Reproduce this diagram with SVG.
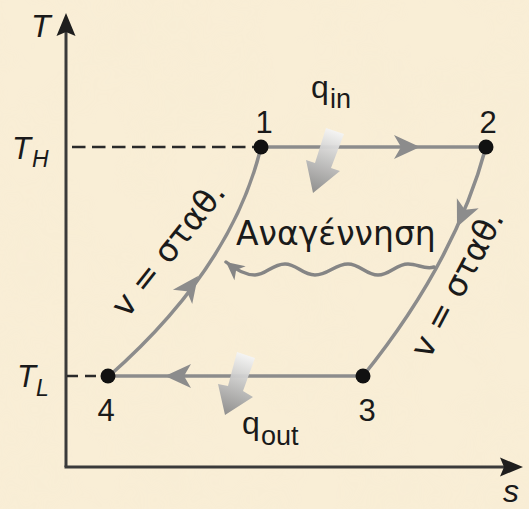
<svg xmlns="http://www.w3.org/2000/svg" xmlns:xlink="http://www.w3.org/1999/xlink" width="529" height="509" viewBox="0 0 529 509">
  <defs>
    <style>
      .axis { stroke: #3a3a3a; stroke-width: 3; fill: none; }
      .dash { stroke: #2a2a2a; stroke-width: 2.5; fill: none; }
      .proc { stroke: #8c8c8c; stroke-width: 3.5; fill: none; }
      .wave { stroke: #858585; stroke-width: 3.5; fill: none; stroke-linecap: round; }
      .pt { fill: #111; }
      .lbl { font-family: "Liberation Sans", Arial, sans-serif; fill: #1a1a1a; }
      .it { font-style: italic; }
      .gr { font-family: "DejaVu Sans", "Noto Sans", sans-serif; fill: #1a1a1a; font-size: 33px; }
      .ahead { fill: #8c8c8c; }
      .axhead { fill: #1e1e1e; }
    </style>
    <path id="ah" d="M0,0 L-26,-12 L-19,0 L-26,12 Z"/>
    <marker id="wavehead" viewBox="-20 -11 22 22" refX="0" refY="0" markerWidth="22" markerHeight="22" markerUnits="userSpaceOnUse" orient="auto">
      <path d="M0,0 L-18,-9 L-13,0 L-18,9 Z" fill="#858585"/>
    </marker>
    <linearGradient id="gin" gradientUnits="userSpaceOnUse" x1="335" y1="130" x2="313" y2="193">
      <stop offset="0" stop-color="#f6f6f6"/>
      <stop offset="1" stop-color="#8a8a8a"/>
    </linearGradient>
    <linearGradient id="gout" gradientUnits="userSpaceOnUse" x1="246" y1="354" x2="225" y2="415">
      <stop offset="0" stop-color="#f6f6f6"/>
      <stop offset="1" stop-color="#8a8a8a"/>
    </linearGradient>
    <filter id="paper" x="0" y="0" width="100%" height="100%">
      <feTurbulence type="fractalNoise" baseFrequency="0.015" numOctaves="3" seed="4" result="n"/>
      <feColorMatrix in="n" type="matrix" values="0 0 0 0 0.88  0 0 0 0 0.8  0 0 0 0 0.62  0 0 0 0.5 -0.18"/>
    </filter>
  </defs>

  <!-- background -->
  <rect x="0" y="0" width="529" height="509" fill="#f9eed6"/>
  <rect x="0" y="0" width="529" height="509" filter="url(#paper)" opacity="0.45"/>

  <!-- axes -->
  <g id="axes">
    <line class="axis" x1="66" y1="467" x2="66" y2="30"/>
    <path class="axhead" d="M66,13 L75.5,36 L66,32 L56.5,36 Z"/>
    <line class="axis" x1="64.5" y1="467" x2="508" y2="467"/>
    <path class="axhead" d="M523,467 L500,476.5 L504,467 L500,457.5 Z"/>
    <text class="lbl it" x="31" y="37" font-size="32">T</text>
    <text class="lbl it" x="503" y="502" font-size="32">s</text>
    <text class="lbl it" x="12" y="159" font-size="31">T</text>
    <text class="lbl it" x="32" y="167" font-size="23">H</text>
    <text class="lbl it" x="17" y="387" font-size="31">T</text>
    <text class="lbl it" x="36" y="396" font-size="23">L</text>
    <line class="dash" x1="72" y1="147" x2="255" y2="147" stroke-dasharray="13.5 6.5"/>
    <line class="dash" x1="67" y1="376" x2="102" y2="376" stroke-dasharray="11 7"/>
  </g>

  <!-- connectors (processes) -->
  <g id="connectors">
    <line id="c12" class="proc" x1="261" y1="147" x2="486" y2="147"/>
    <use href="#ah" class="ahead" transform="translate(420,147)"/>
    <path id="c23" class="proc" d="M486,147 Q455,262 363,376"/>
    <use href="#ah" class="ahead" transform="translate(457,227) rotate(114.5)"/>
    <line id="c34" class="proc" x1="363" y1="376" x2="108" y2="376"/>
    <use href="#ah" class="ahead" transform="translate(165,376) rotate(180)"/>
    <path id="c41" class="proc" d="M108,377 Q232,268 261,147"/>
    <use href="#ah" class="ahead" transform="translate(198,276) rotate(-53.6)"/>
    <path id="regen" class="wave" marker-end="url(#wavehead)" d="M434,267 C425,270 418,264 408,264 C396,264 390,275 378,275 C366,275 360,264 348,264 C335,264 328,275 315,275 C302,275 297,264 285,264 C272,264 266,275 255,275 C245,275 236,270 226,262"/>
  </g>

  <!-- heat arrows -->
  <g id="qin">
    <polygon points="326,128 344,134 331,168 340,171 313,193 306,160 315,163" fill="url(#gin)" opacity="0.95"/>
    <text class="lbl" x="311" y="98" font-size="32">q</text>
    <text class="lbl" x="330" y="108" font-size="27">in</text>
  </g>
  <g id="qout">
    <polygon points="237,352 255,358 243,391 253,397 225,415 218,384 228,386" fill="url(#gout)" opacity="0.95"/>
    <text class="lbl" x="242" y="434" font-size="32">q</text>
    <text class="lbl" x="261" y="445" font-size="27">out</text>
  </g>

  <!-- state nodes -->
  <g id="node1">
    <circle class="pt" cx="261" cy="147" r="7.5"/>
    <text class="lbl" x="264" y="133" font-size="31" text-anchor="middle">1</text>
  </g>
  <g id="node2">
    <circle class="pt" cx="486" cy="147" r="7.5"/>
    <text class="lbl" x="488" y="133" font-size="31" text-anchor="middle">2</text>
  </g>
  <g id="node3">
    <circle class="pt" cx="363" cy="376" r="7.5"/>
    <text class="lbl" x="367" y="421" font-size="31" text-anchor="middle">3</text>
  </g>
  <g id="node4">
    <circle class="pt" cx="108" cy="376" r="7.5"/>
    <text class="lbl" x="106" y="421" font-size="31" text-anchor="middle">4</text>
  </g>

  <!-- process labels -->
  <g id="labels">
    <text class="gr" x="236" y="245">Αναγέννηση</text>
    <text class="gr" transform="translate(177,256) rotate(-51.7)" text-anchor="middle">v = σταθ.</text>
    <text class="gr" transform="translate(467,289) rotate(-62.2)" text-anchor="middle">v = σταθ.</text>
  </g>
</svg>
